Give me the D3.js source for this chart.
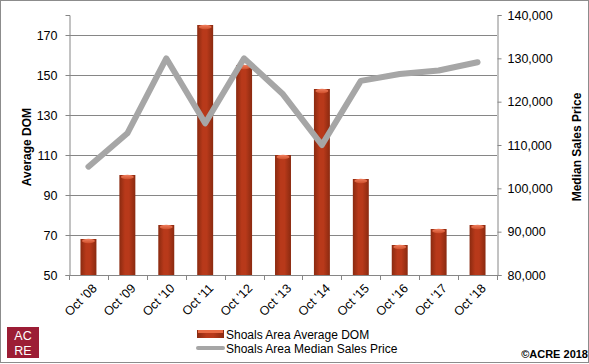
<!DOCTYPE html>
<html>
<head>
<meta charset="utf-8">
<script src="https://cdn.jsdelivr.net/npm/d3@7"></script>
<style>
  html, body { margin: 0; padding: 0; background: #fff; }
  svg { display: block; font-family: "Liberation Sans", Arial, sans-serif; }
</style>
</head>
<body>
<svg id="chart" width="589" height="364"></svg>
<script>
const categories = ["Oct '08","Oct '09","Oct '10","Oct '11","Oct '12","Oct '13","Oct '14","Oct '15","Oct '16","Oct '17","Oct '18"];
const avgDOM = [68, 100, 75, 175, 155, 110, 143, 98, 65, 73, 75];
const medianPrice = [105000, 112700, 130000, 115000, 130000, 121700, 110000, 124800, 126400, 127200, 129100];
const leftTicks = [50, 70, 90, 110, 130, 150, 170];
const rightTicks = [80000, 90000, 100000, 110000, 120000, 130000, 140000];
const seriesNames = ["Shoals Area Average DOM", "Shoals Area Median Sales Price"];

const svg = d3.select("#chart");
const plot = { left: 69, right: 497, top: 15, bottom: 275 };

// frame
svg.append("rect").attr("x", 0.5).attr("y", 0.5).attr("width", 588).attr("height", 362)
  .attr("fill", "#fff").attr("stroke", "#8c8c8c").attr("stroke-width", 1);

const x = d3.scaleBand().domain(categories).range([plot.left, plot.right]).paddingInner(0.59).paddingOuter(0.295);
const xb = d3.scaleBand().domain(categories).range([plot.left, plot.right]);
const yL = d3.scaleLinear().domain([50, 180]).range([plot.bottom, plot.top]);
const yR = d3.scaleLinear().domain([80000, 140000]).range([plot.bottom, plot.top]);

// gradients
const defs = svg.append("defs");
const g = defs.append("linearGradient").attr("id", "barGrad").attr("x1", "0").attr("x2", "1").attr("y1", "0").attr("y2", "0");
g.append("stop").attr("offset", "0%").attr("stop-color", "#8a2a10");
g.append("stop").attr("offset", "35%").attr("stop-color", "#b8391a");
g.append("stop").attr("offset", "60%").attr("stop-color", "#b8391a");
g.append("stop").attr("offset", "100%").attr("stop-color", "#8a2a10");
const gc = defs.append("linearGradient").attr("id", "capGrad").attr("x1", "0").attr("x2", "0").attr("y1", "0").attr("y2", "1");
gc.append("stop").attr("offset", "0%").attr("stop-color", "#f08060");
gc.append("stop").attr("offset", "100%").attr("stop-color", "#d0502c");

// gridlines
svg.append("g").selectAll("line").data(leftTicks.filter(d => d > 50)).join("line")
  .attr("x1", plot.left).attr("x2", plot.right)
  .attr("y1", d => Math.round(yL(d)) + 0.5).attr("y2", d => Math.round(yL(d)) + 0.5)
  .attr("stroke", "#868686").attr("stroke-width", 1);

// bars
const bars = svg.append("g");
bars.selectAll("rect.bar").data(categories).join("rect").attr("class", "bar")
  .attr("x", d => x(d)).attr("width", x.bandwidth())
  .attr("y", (d, i) => yL(avgDOM[i])).attr("height", (d, i) => plot.bottom - yL(avgDOM[i]))
  .attr("fill", "url(#barGrad)");
bars.selectAll("ellipse.cap").data(categories).join("ellipse").attr("class", "cap")
  .attr("cx", d => x(d) + x.bandwidth() / 2).attr("cy", (d, i) => yL(avgDOM[i]) + 2)
  .attr("rx", x.bandwidth() / 2 - 1.5).attr("ry", 2.2)
  .attr("fill", "url(#capGrad)");

// axes
const axL = d3.axisLeft(yL).tickValues(leftTicks).tickSize(4).tickFormat(d3.format("d"));
const gL = svg.append("g").attr("transform", `translate(${plot.left + 0.5},0)`).call(axL);
const axR = d3.axisRight(yR).tickValues(rightTicks).tickSize(4).tickFormat(d3.format(","));
const gR = svg.append("g").attr("transform", `translate(${plot.right + 0.5},0)`).call(axR);
[gL, gR].forEach(a => {
  a.select(".domain").attr("stroke", "#868686");
  a.selectAll(".tick line").attr("stroke", "#868686");
  a.selectAll(".tick text").attr("fill", "#000").style("font-size", "12.5px").style("font-family", "Liberation Sans, Arial, sans-serif");
});
gL.selectAll(".tick text").attr("x", -12);
gR.selectAll(".tick text").attr("x", 10);

// bottom axis with ticks at band boundaries
const gB = svg.append("g");
gB.append("line").attr("x1", plot.left).attr("x2", plot.right)
  .attr("y1", plot.bottom + 0.5).attr("y2", plot.bottom + 0.5).attr("stroke", "#868686");
const boundaries = categories.map(c => xb(c)).concat([plot.right]);
gB.selectAll("line.tk").data(boundaries).join("line").attr("class", "tk")
  .attr("x1", d => Math.round(d) + 0.5).attr("x2", d => Math.round(d) + 0.5)
  .attr("y1", plot.bottom).attr("y2", plot.bottom + 5).attr("stroke", "#868686");
gB.selectAll("text").data(categories).join("text")
  .attr("transform", d => `translate(${xb(d) + xb.bandwidth() / 2 + 6},${plot.bottom + 11}) rotate(-45)`)
  .attr("text-anchor", "end").attr("dy", "0.35em")
  .style("font-size", "12.5px").attr("fill", "#000")
  .text(d => d);

// line
const line = d3.line().x((d, i) => xb(categories[i]) + xb.bandwidth() / 2).y(d => yR(d));
svg.append("path").datum(medianPrice).attr("d", line)
  .attr("fill", "none").attr("stroke", "#a6a6a6").attr("stroke-width", 6)
  .attr("stroke-linejoin", "round").attr("stroke-linecap", "round");

// axis titles
svg.append("text").attr("transform", "translate(31,147) rotate(-90)")
  .attr("text-anchor", "middle").style("font-size", "12px").style("font-weight", "bold")
  .text("Average DOM");
svg.append("text").attr("transform", "translate(581,147) rotate(-90)")
  .attr("text-anchor", "middle").style("font-size", "12px").style("font-weight", "bold")
  .text("Median Sales Price");

// legend
const lg = svg.append("g");
lg.append("rect").attr("x", 197).attr("y", 330).attr("width", 27).attr("height", 8).attr("fill", "url(#barGrad)");
lg.append("rect").attr("x", 198).attr("y", 330).attr("width", 25).attr("height", 3).attr("fill", "#e86a44");
lg.append("line").attr("x1", 198).attr("x2", 223).attr("y1", 348).attr("y2", 348)
  .attr("stroke", "#a6a6a6").attr("stroke-width", 4).attr("stroke-linecap", "round");
lg.append("text").attr("x", 226).attr("y", 339).style("font-size", "12px").text(seriesNames[0]);
lg.append("text").attr("x", 226).attr("y", 353).style("font-size", "12px").text(seriesNames[1]);

// logo
svg.append("rect").attr("x", 7).attr("y", 327).attr("width", 32).attr("height", 31).attr("fill", "#9c1d35");
svg.append("text").attr("x", 23).attr("y", 340).attr("text-anchor", "middle").attr("fill", "#fff")
  .style("font-size", "12.5px").text("AC");
svg.append("text").attr("x", 23).attr("y", 355).attr("text-anchor", "middle").attr("fill", "#fff")
  .style("font-size", "12.5px").text("RE");

// copyright
svg.append("text").attr("x", 588).attr("y", 358).attr("text-anchor", "end")
  .style("font-size", "11px").style("font-weight", "bold").text("©ACRE 2018");
</script>
</body>
</html>
